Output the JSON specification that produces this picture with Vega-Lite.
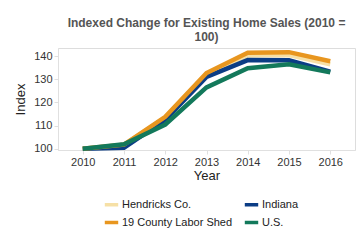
{
  "$schema": "https://vega.github.io/schema/vega-lite/v6.json",
  "width": 297,
  "height": 102,
  "autosize": {"type": "none"},
  "padding": {"left": 58, "top": 48, "right": 5, "bottom": 90},
  "background": "white",
  "title": {
    "text": ["Indexed Change for Existing Home Sales (2010 =", "100)"],
    "font": "Liberation Sans",
    "fontSize": 12,
    "fontWeight": "bold",
    "color": "#555555",
    "anchor": "middle",
    "offset": -1,
    "lineHeight": 14
  },
  "data": {
    "values": [
      {"year": "2010", "series": "Hendricks Co.", "value": 100},
      {"year": "2011", "series": "Hendricks Co.", "value": 101.8},
      {"year": "2012", "series": "Hendricks Co.", "value": 113.5},
      {"year": "2013", "series": "Hendricks Co.", "value": 132},
      {"year": "2014", "series": "Hendricks Co.", "value": 140.3},
      {"year": "2015", "series": "Hendricks Co.", "value": 140.5},
      {"year": "2016", "series": "Hendricks Co.", "value": 136.5},
      {"year": "2010", "series": "Indiana", "value": 100},
      {"year": "2011", "series": "Indiana", "value": 100.5},
      {"year": "2012", "series": "Indiana", "value": 112.5},
      {"year": "2013", "series": "Indiana", "value": 131},
      {"year": "2014", "series": "Indiana", "value": 138.3},
      {"year": "2015", "series": "Indiana", "value": 138.2},
      {"year": "2016", "series": "Indiana", "value": 133.3},
      {"year": "2010", "series": "19 County Labor Shed", "value": 100},
      {"year": "2011", "series": "19 County Labor Shed", "value": 101.8},
      {"year": "2012", "series": "19 County Labor Shed", "value": 113.8},
      {"year": "2013", "series": "19 County Labor Shed", "value": 132.7},
      {"year": "2014", "series": "19 County Labor Shed", "value": 141.5},
      {"year": "2015", "series": "19 County Labor Shed", "value": 141.7},
      {"year": "2016", "series": "19 County Labor Shed", "value": 137.8},
      {"year": "2010", "series": "U.S.", "value": 100},
      {"year": "2011", "series": "U.S.", "value": 102},
      {"year": "2012", "series": "U.S.", "value": 110.5},
      {"year": "2013", "series": "U.S.", "value": 126.5},
      {"year": "2014", "series": "U.S.", "value": 134.8},
      {"year": "2015", "series": "U.S.", "value": 136.5},
      {"year": "2016", "series": "U.S.", "value": 133}
    ]
  },
  "mark": {"type": "line", "strokeWidth": 4.5, "strokeJoin": "miter"},
  "encoding": {
    "x": {
      "field": "year",
      "type": "ordinal",
      "scale": {"type": "point", "padding": 0.6},
      "axis": {
        "title": "Year",
        "labelAngle": 0,
        "labelFont": "Liberation Sans",
        "labelFontSize": 11,
        "labelColor": "#333",
        "titleFont": "Liberation Sans",
        "titleFontSize": 13,
        "titleFontWeight": "normal",
        "titleColor": "#222",
        "titlePadding": 2,
        "domainColor": "#e0e0e0",
        "tickColor": "#e0e0e0",
        "tickSize": 4,
        "grid": false
      }
    },
    "y": {
      "field": "value",
      "type": "quantitative",
      "scale": {"domain": [99.5, 143.5], "nice": false, "zero": false},
      "axis": {
        "title": "Index",
        "values": [100, 110, 120, 130, 140],
        "labelFont": "Liberation Sans",
        "labelFontSize": 11,
        "labelColor": "#333",
        "titleFont": "Liberation Sans",
        "titleFontSize": 13,
        "titleFontWeight": "normal",
        "titleColor": "#222",
        "titlePadding": 6,
        "domainColor": "#e0e0e0",
        "tickColor": "#e0e0e0",
        "tickSize": 4,
        "grid": false
      }
    },
    "color": {
      "field": "series",
      "type": "nominal",
      "sort": ["Hendricks Co.", "Indiana", "19 County Labor Shed", "U.S."],
      "scale": {
        "domain": ["Hendricks Co.", "Indiana", "19 County Labor Shed", "U.S."],
        "range": ["#f6e0a6", "#0b3d85", "#e8961f", "#13795b"]
      },
      "legend": {
        "title": null,
        "orient": "none",
        "direction": "horizontal",
        "legendX": 45,
        "legendY": 148,
        "columns": 2,
        "symbolType": "stroke",
        "symbolStrokeWidth": 3.5,
        "symbolSize": 180,
        "labelFont": "Liberation Sans",
        "labelFontSize": 11,
        "labelColor": "#222",
        "labelOffset": 2,
        "columnPadding": 4,
        "rowPadding": 2
      }
    }
  }
}
